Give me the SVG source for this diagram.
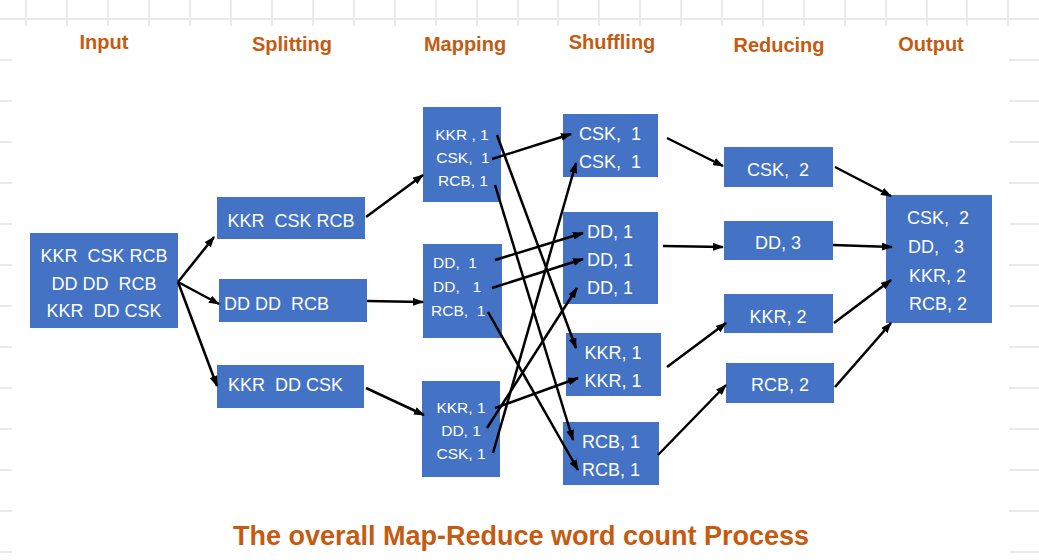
<svg xmlns="http://www.w3.org/2000/svg" width="1039" height="560" viewBox="0 0 1039 560">
<defs>
<marker id="ah" markerWidth="11" markerHeight="8" refX="10" refY="4" orient="auto" markerUnits="userSpaceOnUse">
<path d="M0,0 L11,4 L0,8 z" fill="#000"/>
</marker>
<style>
.grid{stroke:#e3e3e3;stroke-width:1.5;fill:none}
.box{fill:#4472C4}
.t{font-family:"Liberation Sans",Arial,sans-serif;fill:#fff;font-size:18px}
.ts{font-family:"Liberation Sans",Arial,sans-serif;fill:#fff;font-size:15.5px}
.c{text-anchor:middle}
.hd{font-family:"Liberation Sans",Arial,sans-serif;font-weight:bold;fill:#C55A11;font-size:20px;text-anchor:middle}
.title{font-family:"Liberation Sans",Arial,sans-serif;font-weight:bold;fill:#C55A11;font-size:27px;text-anchor:middle}
.ln{stroke:#000;stroke-width:2.5;fill:none;marker-end:url(#ah)}
</style>
</defs>
<rect width="1039" height="560" fill="#fff"/>
<g id="grid" class="grid">
<line x1="0" y1="19" x2="1039" y2="19"/>
<path d="M26,0V26M67,0V26M108,0V26M149,0V26M190,0V26M231,0V26M272,0V26M313,0V26M354,0V26M395,0V26M436,0V26M477,0V26M518,0V26M558,0V26M599,0V26M640,0V26M681,0V26M722,0V26M763,0V26M804,0V26M845,0V26M886,0V26M927,0V26M967,0V26M1008,0V26"/>
<path d="M0,60H12M0,101H12M0,142H12M0,183H12M0,224H12M0,265H12M0,306H12M0,347H12M0,388H12M0,429H12M0,470H12M0,511H12M0,552H12"/>
<path d="M1009,60H1039M1009,101H1039M1009,142H1039M1009,183H1039M1009,224H1039M1009,265H1039M1009,306H1039M1009,347H1039M1009,388H1039M1009,429H1039M1009,470H1039M1009,511H1039M1009,552H1039"/>
</g>
<g id="headers">
<text class="hd" x="104" y="49">Input</text>
<text class="hd" x="292" y="51">Splitting</text>
<text class="hd" x="465" y="51">Mapping</text>
<text class="hd" x="612" y="49">Shuffling</text>
<text class="hd" x="779" y="52">Reducing</text>
<text class="hd" x="931" y="51">Output</text>
</g>
<g id="input">
<rect class="box" x="30" y="233" width="148" height="95"/>
<text class="t c" x="104" y="262" xml:space="preserve">KKR  CSK RCB</text>
<text class="t c" x="104" y="290" xml:space="preserve">DD DD  RCB</text>
<text class="t c" x="104" y="317" xml:space="preserve">KKR  DD CSK</text>
</g>
<g id="split1">
<rect class="box" x="217" y="197" width="148" height="42"/>
<text class="t c" x="291" y="227" xml:space="preserve">KKR  CSK RCB</text>
</g>
<g id="split2">
<rect class="box" x="219" y="279" width="148" height="43"/>
<text class="t" x="224" y="310" xml:space="preserve">DD DD  RCB</text>
</g>
<g id="split3">
<rect class="box" x="217" y="365" width="147" height="43"/>
<text class="t" x="228" y="391" xml:space="preserve">KKR  DD CSK</text>
</g>
<g id="map1">
<rect class="box" x="423" y="107" width="78" height="95"/>
<text class="ts c" x="462" y="140" xml:space="preserve">KKR , 1</text>
<text class="ts c" x="463" y="163" xml:space="preserve">CSK,  1</text>
<text class="ts c" x="463" y="186" xml:space="preserve">RCB, 1</text>
</g>
<g id="map2">
<rect class="box" x="423" y="244" width="79" height="94"/>
<text class="ts" x="433" y="268" xml:space="preserve">DD,  1</text>
<text class="ts" x="433" y="292" xml:space="preserve">DD,   1</text>
<text class="ts" x="431" y="316" xml:space="preserve">RCB,  1</text>
</g>
<g id="map3">
<rect class="box" x="422" y="381" width="78" height="96"/>
<text class="ts c" x="461" y="413" xml:space="preserve">KKR, 1</text>
<text class="ts c" x="461" y="436" xml:space="preserve">DD, 1</text>
<text class="ts c" x="461" y="459" xml:space="preserve">CSK, 1</text>
</g>
<g id="shuf1">
<rect class="box" x="563" y="114" width="95" height="63"/>
<text class="t c" x="610" y="140" xml:space="preserve">CSK,  1</text>
<text class="t c" x="610" y="168" xml:space="preserve">CSK,  1</text>
</g>
<g id="shuf2">
<rect class="box" x="563" y="212" width="95" height="92"/>
<text class="t c" x="610" y="238" xml:space="preserve">DD, 1</text>
<text class="t c" x="610" y="266" xml:space="preserve">DD, 1</text>
<text class="t c" x="610" y="294" xml:space="preserve">DD, 1</text>
</g>
<g id="shuf3">
<rect class="box" x="566" y="333" width="95" height="63"/>
<text class="t c" x="613" y="359" xml:space="preserve">KKR, 1</text>
<text class="t c" x="613" y="387" xml:space="preserve">KKR, 1</text>
</g>
<g id="shuf4">
<rect class="box" x="563" y="422" width="96" height="63"/>
<text class="t c" x="611" y="448" xml:space="preserve">RCB, 1</text>
<text class="t c" x="611" y="476" xml:space="preserve">RCB, 1</text>
</g>
<g id="red1">
<rect class="box" x="724" y="147" width="109" height="40"/>
<text class="t c" x="778" y="176" xml:space="preserve">CSK,  2</text>
</g>
<g id="red2">
<rect class="box" x="724" y="221" width="109" height="39"/>
<text class="t c" x="778" y="249" xml:space="preserve">DD, 3</text>
</g>
<g id="red3">
<rect class="box" x="724" y="294" width="109" height="39"/>
<text class="t c" x="778" y="323" xml:space="preserve">KKR, 2</text>
</g>
<g id="red4">
<rect class="box" x="726" y="363" width="108" height="40"/>
<text class="t c" x="780" y="391" xml:space="preserve">RCB, 2</text>
</g>
<g id="output">
<rect class="box" x="886" y="195" width="106" height="128"/>
<text class="t" x="907" y="224" xml:space="preserve">CSK,  2</text>
<text class="t" x="908" y="253" xml:space="preserve">DD,   3</text>
<text class="t" x="909" y="282" xml:space="preserve">KKR, 2</text>
<text class="t" x="909" y="310" xml:space="preserve">RCB, 2</text>
</g>
<g id="connectors">
<line class="ln" x1="178" y1="282" x2="214" y2="237"/>
<line class="ln" x1="178" y1="282" x2="219" y2="304"/>
<line class="ln" x1="178" y1="282" x2="217" y2="386"/>
<line class="ln" x1="366" y1="217" x2="423" y2="175"/>
<line class="ln" x1="367" y1="301" x2="423" y2="302"/>
<line class="ln" x1="366" y1="388" x2="424" y2="415"/>
<line class="ln" x1="497" y1="135" x2="576" y2="348"/>
<line class="ln" x1="492" y1="159" x2="571" y2="134"/>
<line class="ln" x1="495" y1="185" x2="573" y2="440"/>
<line class="ln" x1="495" y1="260" x2="583" y2="233"/>
<line class="ln" x1="492" y1="288" x2="583" y2="259"/>
<line class="ln" x1="488" y1="312" x2="578" y2="470"/>
<line class="ln" x1="495" y1="408" x2="578" y2="378"/>
<line class="ln" x1="487" y1="428" x2="577" y2="288"/>
<line class="ln" x1="493" y1="453" x2="576" y2="163"/>
<line class="ln" x1="667" y1="138" x2="723" y2="166"/>
<line class="ln" x1="663" y1="246" x2="723" y2="247"/>
<line class="ln" x1="667" y1="367" x2="726" y2="323"/>
<line class="ln" x1="658" y1="455" x2="726" y2="385"/>
<line class="ln" x1="835" y1="167" x2="891" y2="196"/>
<line class="ln" x1="833" y1="245" x2="892" y2="247"/>
<line class="ln" x1="834" y1="323" x2="891" y2="280"/>
<line class="ln" x1="835" y1="387" x2="891" y2="323"/>
</g>
<text class="title" x="521" y="545">The overall Map-Reduce word count Process</text>
</svg>
